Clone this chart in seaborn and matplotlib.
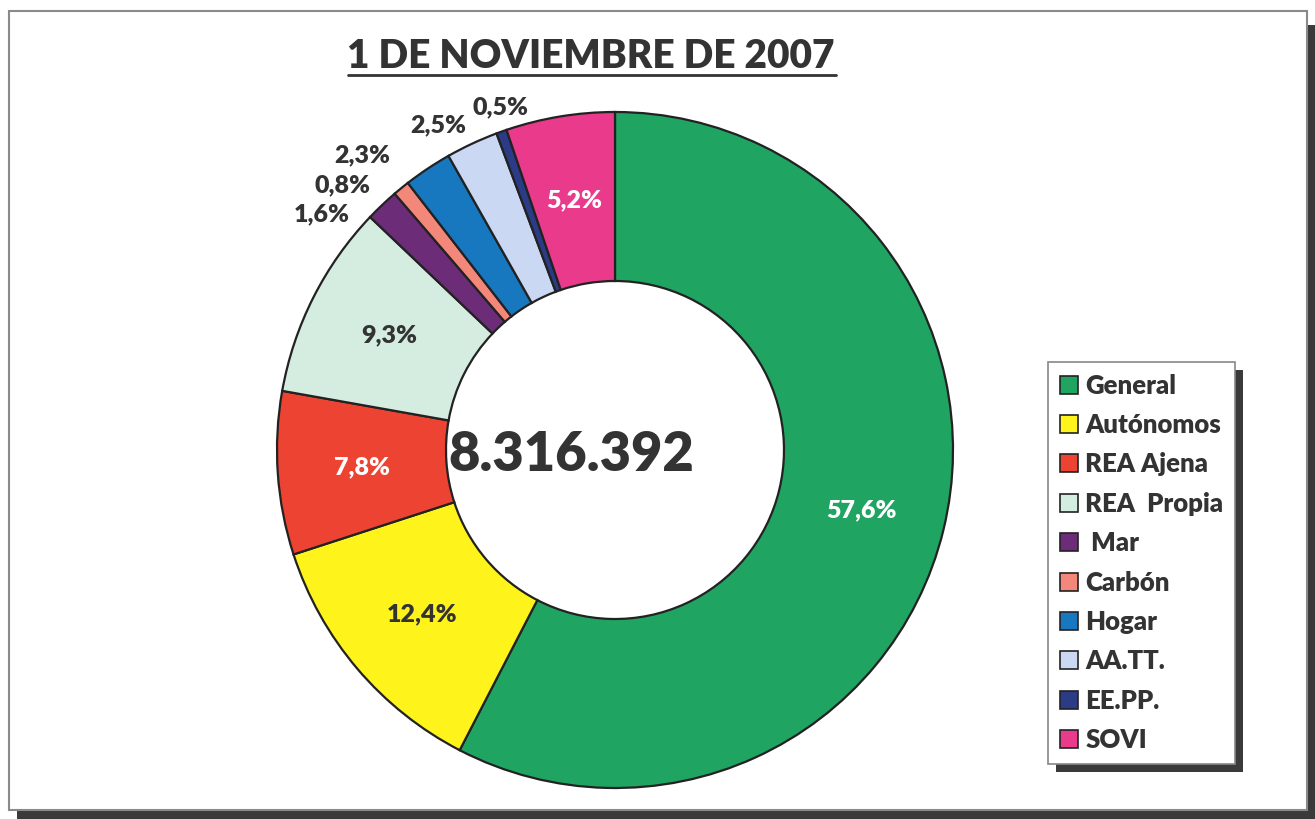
import matplotlib
matplotlib.use("Agg")
import matplotlib.pyplot as plt
from matplotlib.patches import Patch, Rectangle
from matplotlib.lines import Line2D
import numpy as np
import seaborn as sns

# Chart data
title = "1 DE NOVIEMBRE DE 2007"
total_label = "8.316.392"
categories = ["General", "Autónomos", "REA Ajena", "REA  Propia", " Mar",
              "Carbón", "Hogar", "AA.TT.", "EE.PP.", "SOVI"]
percentages = [57.6, 12.4, 7.8, 9.3, 1.6, 0.8, 2.3, 2.5, 0.5, 5.2]
colors = ["#1fa462", "#fff31c", "#ec4332", "#d5ede1", "#6c2c77",
          "#f3877a", "#1878bf", "#cbd8f3", "#2b3b86", "#e93a8b"]
label_colors = ["white", "#333333", "white", "#333333", "#333333",
                "#333333", "#333333", "#333333", "#333333", "white"]
# labels of the thin slices sit outside the ring (pie radius units)
outside_labels = {4: (-0.867, 0.698), 5: (-0.805, 0.784), 6: (-0.749, 0.873),
                  7: (-0.524, 0.962), 8: (-0.340, 1.015)}

sns.set_theme(style="white")
plt.rcParams["font.family"] = ["Lato", "DejaVu Sans"]

W, H = 1315, 819
R = 338.0               # outer radius in pixels
CX, CY = 615, 450       # centre of the donut, pixels from top-left
dark = "#333333"
WEIGHT = "heavy"

fig = plt.figure(figsize=(W / 100, H / 100), dpi=100)
fig.patch.set_facecolor("white")


def fx(x):
    return x / W


def fy(y):
    return 1 - y / H


# page frame with a dark drop shadow
fig.add_artist(Rectangle((fx(17), fy(819)), fx(1298), fy(25) - fy(819),
                         transform=fig.transFigure, facecolor="#3a3a3a",
                         edgecolor="none", zorder=-3))
fig.add_artist(Rectangle((fx(9), fy(810)), fx(1298), fy(11) - fy(810),
                         transform=fig.transFigure, facecolor="white",
                         edgecolor="#8a8a8a", linewidth=1.5, zorder=-2))

ax = fig.add_axes([0, 0, 1, 1])
wedges, _ = ax.pie(
    percentages,
    colors=colors,
    startangle=90,
    counterclock=False,
    radius=1,
    wedgeprops=dict(width=0.5, edgecolor="#222222", linewidth=1.6),
)
ax.set_xlim(-CX / R, (W - CX) / R)
ax.set_ylim(-(H - CY) / R, CY / R)
ax.set_aspect("auto")
ax.set_axis_off()

# percentage labels
for i, (w, v) in enumerate(zip(wedges, percentages)):
    txt = f"{v:.1f}".replace(".", ",") + "%"
    if i in outside_labels:
        x, y = outside_labels[i]
    else:
        ang = np.deg2rad((w.theta1 + w.theta2) / 2)
        x, y = 0.75 * np.cos(ang), 0.75 * np.sin(ang)
    ax.text(x, y, txt, ha="center", va="center", fontsize=18,
            fontweight=WEIGHT, color=label_colors[i])

# total in the hole
ax.text(-44 / R, -5 / R, total_label, ha="center", va="center",
        fontsize=39, fontweight=WEIGHT, color=dark)

# underlined title
fig.text(fx(591), fy(57), title, ha="center", va="center", fontsize=28,
         fontweight=WEIGHT, color=dark)
fig.add_artist(Line2D([fx(348), fx(836)], [fy(75), fy(75)],
                      transform=fig.transFigure, color=dark, linewidth=2))

# legend
handles = [Patch(facecolor=c, edgecolor="#222222", linewidth=1.2) for c in colors]
leg = ax.legend(handles, categories, loc="upper left",
                bbox_to_anchor=(fx(1048), fy(362)), bbox_transform=fig.transFigure,
                borderaxespad=0, prop={"size": 18.5, "weight": WEIGHT},
                frameon=True, fancybox=False,
                framealpha=1, edgecolor="#888888", handlelength=0.7,
                handleheight=0.7, handletextpad=0.3, labelspacing=0.6,
                borderpad=0.45)
for t in leg.get_texts():
    t.set_color(dark)
leg.get_frame().set_linewidth(1.2)

fig.canvas.draw()
bb = leg.get_window_extent()
fig.add_artist(Rectangle((bb.x0 + 8, bb.y0 - 8), bb.width, bb.height,
                         transform=None, facecolor="#3a3a3a",
                         edgecolor="none", zorder=-1))

fig.savefig("out.png", dpi=100)
